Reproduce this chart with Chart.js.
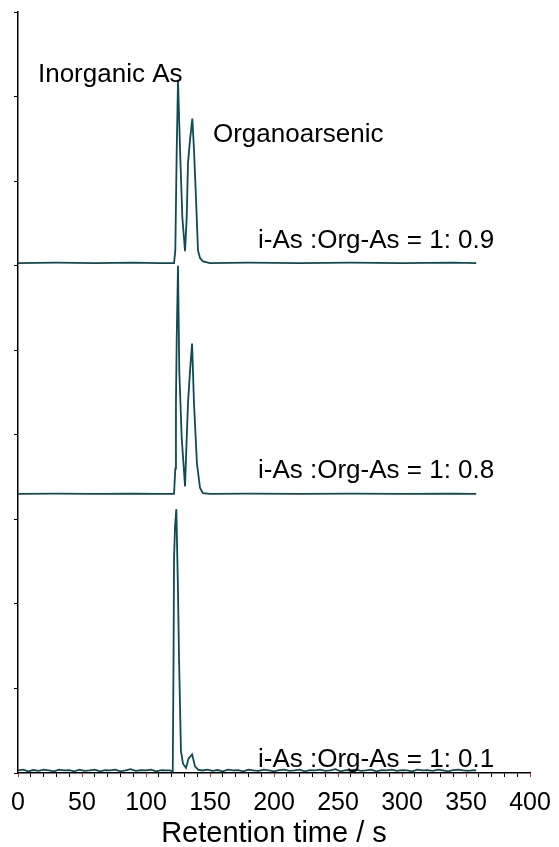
<!DOCTYPE html>
<html>
<head>
<meta charset="utf-8">
<script src="https://cdn.jsdelivr.net/npm/chart.js@4/dist/chart.umd.min.js"></script>
<style>
  body { margin: 0; background: #fff; }
</style>
</head>
<body>
<canvas id="chromChart" width="559" height="847"></canvas>
<script>
// retention times (s) and signal for each sample, signal in stacked-axis units
const times09 = [0, 30, 60, 90, 110, 121.9, 122.9, 124.0, 125.0, 126.6, 128.4, 130.5, 131.8, 132.8, 134.4, 136.2, 137.5, 139.1, 140.6, 142.2, 144.5, 150, 180, 220, 260, 300, 340, 358];
const signal09 = [0, 0.005, 0, 0.005, 0, 0, 0.15, 1.34, 2.17, 1.34, 0.54, 0.14, 0.54, 1.18, 1.46, 1.71, 1.34, 0.75, 0.15, 0.06, 0.02, 0, 0.005, 0, 0.005, 0, 0.005, 0];

const times08 = [0, 30, 60, 90, 110, 121.9, 122.9, 123.4, 124.0, 125.0, 126.0, 127.9, 129.7, 130.5, 131.8, 132.8, 134.4, 136.0, 137.5, 139.8, 142.2, 144.5, 150, 180, 220, 260, 300, 340, 358];
const signal08 = [0, 0.005, 0, 0.005, 0, 0, 0.3, 1.07, 1.85, 2.70, 1.46, 0.66, 0.27, 0.09, 0.66, 1.07, 1.46, 1.78, 1.07, 0.36, 0.07, 0.01, 0, 0.005, 0, 0.005, 0, 0.005, 0];

const times01 = [
  0, 4, 8, 12, 16, 20, 24, 28, 32, 36, 40, 44, 48, 52, 56, 60, 64, 68, 72, 76, 80, 84, 88, 92, 96, 100, 104, 108, 112, 116,
  118.5, 120.9, 121.5, 121.9, 122.7, 123.7, 125.0, 125.8, 127.3, 128.9, 131.3, 133.2, 136.0, 138.3, 140.6,
  144, 148, 152, 156, 160, 164, 168, 172, 176, 180, 184, 188, 192, 196, 200, 204, 208, 212, 216, 220, 224, 228, 232, 236, 240,
  244, 248, 252, 256, 260, 264, 268, 272, 276, 280, 284, 288, 292, 296, 300, 304, 308, 312, 316, 320, 324, 328, 332, 336, 340,
  344, 348, 352, 356, 358,
];
const signal01 = [
  0.01, 0.02, 0, 0.015, 0.005, 0.02, 0.01, 0, 0.02, 0.01, 0.015, 0, 0.02, 0.005, 0.01, 0.02, 0, 0.015, 0.01, 0.02, 0, 0.01, 0.025, 0.005, 0.015, 0.01, 0.02, 0, 0.015, 0.01,
  0.01, 0, 1.3, 2.52, 2.9, 3.10, 2.13, 1.34, 0.24, 0.09, 0.04, 0.15, 0.20, 0.06, 0.02,
  0.01, 0.02, 0.005, 0.015, 0, 0.02, 0.01, 0.015, 0, 0.02, 0.01, 0.005, 0.02, 0.01, 0, 0.015, 0.02, 0.005, 0.01, 0.02, 0, 0.015, 0.01, 0.02, 0.005,
  0.01, 0.025, 0, 0.015, 0.01, 0.02, 0.005, 0.01, 0.02, 0, 0.015, 0.01, 0.02, 0.005, 0.015, 0.01, 0, 0.02, 0.01, 0.015, 0.005, 0.02, 0.01, 0, 0.015,
  0.02, 0.01, 0.005, 0.015, 0.01,
];

// vertical offset of each trace on the shared axis
const offsets = [6.03, 3.30, 0.02];

const ratioLabels = ["i-As :Org-As = 1: 0.9", "i-As :Org-As = 1: 0.8", "i-As :Org-As = 1: 0.1"];
const peakLabels = ["Inorganic As", "Organoarsenic"];

const lineColor = "#0f4b53";
const fontFamily = "'Liberation Sans', Arial, sans-serif";

const toPoints = (times, values, offset) =>
  times.map((t, i) => ({ x: t, y: values[i] + offset }));

// text notes placed in data coordinates (s, axis units)
const notes = [
  { text: peakLabels[0], x: 15.6, y: 8.17 },
  { text: peakLabels[1], x: 152.3, y: 7.46 },
  { text: ratioLabels[0], x: 187.5, y: 6.21 },
  { text: ratioLabels[1], x: 187.5, y: 3.49 },
  { text: ratioLabels[2], x: 187.5, y: 0.07 },
];

const notesPlugin = {
  id: "notes",
  afterDraw(chart) {
    const { ctx, scales } = chart;
    ctx.save();
    ctx.font = "26px " + fontFamily;
    ctx.fillStyle = "#000";
    ctx.textAlign = "left";
    ctx.textBaseline = "alphabetic";
    notes.forEach((n) => {
      ctx.fillText(n.text, scales.x.getPixelForValue(n.x), scales.y.getPixelForValue(n.y));
    });
    ctx.restore();
  },
};

const traceStyle = {
  borderColor: lineColor,
  borderWidth: 1.8,
  pointRadius: 0,
  tension: 0,
  fill: false,
};

const ctx = document.getElementById("chromChart").getContext("2d");

new Chart(ctx, {
  type: "line",
  data: {
    datasets: [
      { label: ratioLabels[0], data: toPoints(times09, signal09, offsets[0]), ...traceStyle },
      { label: ratioLabels[1], data: toPoints(times08, signal08, offsets[1]), ...traceStyle },
      { label: ratioLabels[2], data: toPoints(times01, signal01, offsets[2]), ...traceStyle },
    ],
  },
  options: {
    responsive: false,
    animation: false,
    layout: { padding: { left: 14, right: 29, top: 12, bottom: 0 } },
    plugins: {
      legend: { display: false },
      tooltip: { enabled: false },
    },
    scales: {
      x: {
        type: "linear",
        min: 0,
        max: 400,
        border: { display: true, color: "#000", width: 1.5 },
        grid: {
          drawOnChartArea: false,
          drawTicks: true,
          tickLength: 4,
          tickColor: (c) => (c.tick && c.tick.value % 50 === 0 ? "#c0392b" : "#000"),
        },
        ticks: {
          stepSize: 10,
          autoSkip: false,
          maxRotation: 0,
          padding: 3,
          color: "#000",
          font: { family: fontFamily, size: 25, lineHeight: 1.84 },
          callback: (v) => (v % 50 === 0 ? v : ""),
        },
        title: {
          display: true,
          text: "Retention time / s",
          color: "#000",
          font: { family: fontFamily, size: 29, lineHeight: 1 },
          padding: { top: -10, bottom: -1 },
        },
      },
      y: {
        min: 0,
        max: 9,
        border: { display: true, color: "#000", width: 1.5 },
        grid: {
          drawOnChartArea: false,
          drawTicks: true,
          tickLength: 4,
          tickColor: "#000",
        },
        ticks: { display: false, stepSize: 1 },
      },
    },
  },
  plugins: [notesPlugin],
});
</script>
</body>
</html>
